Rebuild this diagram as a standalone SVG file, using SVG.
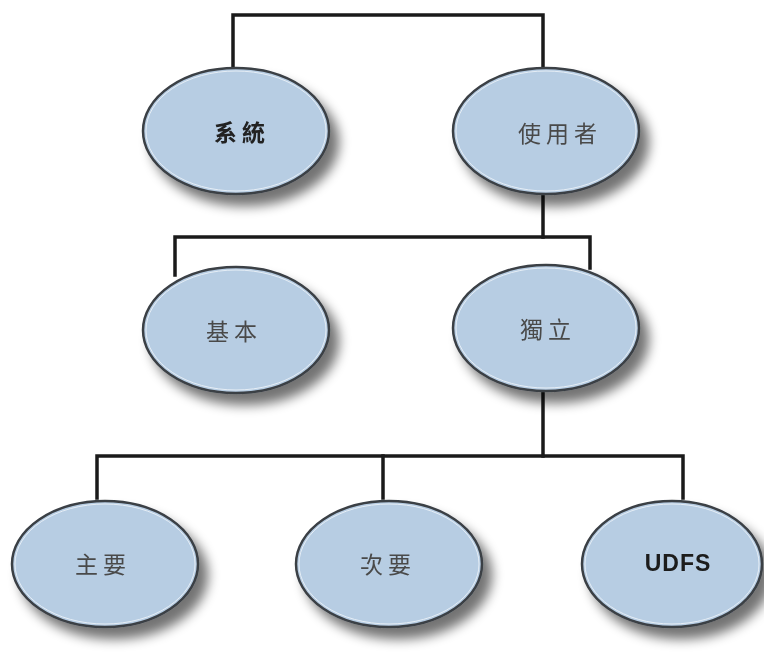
<svg xmlns="http://www.w3.org/2000/svg" width="764" height="656" viewBox="0 0 764 656">
  <defs>
    <filter id="shadow" x="-30%" y="-30%" width="170%" height="180%">
      <feGaussianBlur in="SourceAlpha" stdDeviation="6"/>
      <feOffset dx="9" dy="11" result="blur"/>
      <feComponentTransfer><feFuncA type="linear" slope="0.55"/></feComponentTransfer>
      <feMerge><feMergeNode/><feMergeNode in="SourceGraphic"/></feMerge>
    </filter>
  </defs>
  <style>
    .conn { fill: none; stroke: #1a1a1a; stroke-width: 3.5; stroke-linecap: square; }
    .node ellipse.body { fill: #b7cde3; stroke: #3a3f45; stroke-width: 2.5; }
    .node ellipse.hl { fill: none; stroke: #e6eef6; stroke-width: 1; }
    .cjk { font-family: "Noto Sans CJK TC", "Noto Sans CJK SC", sans-serif; font-size: 23px; fill: #4a4a4a; text-anchor: middle; dominant-baseline: central; letter-spacing: 5px; }
    .bold { font-weight: bold; fill: #222; }
    .latin { font-family: "Liberation Sans", Arial, sans-serif; font-weight: bold; font-size: 23px; fill: #1a1a1a; text-anchor: middle; letter-spacing: 1px; }
  </style>
  <rect width="764" height="656" fill="#ffffff"/>

  <g id="connectors">
    <path class="conn" d="M233 66 V15 H543 V66"/>
    <path class="conn" d="M543 196 V237"/>
    <path class="conn" d="M175 275 V237 H590 V268"/>
    <path class="conn" d="M543 392 V456"/>
    <path class="conn" d="M97 498 V456 H683 V498"/>
    <path class="conn" d="M383 498 V456"/>
  </g>

  <g id="node-system" class="node" filter="url(#shadow)">
    <ellipse class="body" cx="236" cy="131" rx="93" ry="63"/>
    <ellipse class="hl" cx="236" cy="131" rx="90" ry="60"/>
    <text class="cjk bold" x="242" y="131">系統</text>
  </g>
  <g id="node-user" class="node" filter="url(#shadow)">
    <ellipse class="body" cx="546" cy="131" rx="93" ry="63"/>
    <ellipse class="hl" cx="546" cy="131" rx="90" ry="60"/>
    <text class="cjk" x="560" y="132">使用者</text>
  </g>
  <g id="node-basic" class="node" filter="url(#shadow)">
    <ellipse class="body" cx="236" cy="330" rx="93" ry="63"/>
    <ellipse class="hl" cx="236" cy="330" rx="90" ry="60"/>
    <text class="cjk" x="234" y="330">基本</text>
  </g>
  <g id="node-independent" class="node" filter="url(#shadow)">
    <ellipse class="body" cx="546" cy="328" rx="93" ry="63"/>
    <ellipse class="hl" cx="546" cy="328" rx="90" ry="60"/>
    <text class="cjk" x="548" y="328">獨立</text>
  </g>
  <g id="node-primary" class="node" filter="url(#shadow)">
    <ellipse class="body" cx="105" cy="564" rx="93" ry="63"/>
    <ellipse class="hl" cx="105" cy="564" rx="90" ry="60"/>
    <text class="cjk" x="103" y="563">主要</text>
  </g>
  <g id="node-secondary" class="node" filter="url(#shadow)">
    <ellipse class="body" cx="389" cy="564" rx="93" ry="63"/>
    <ellipse class="hl" cx="389" cy="564" rx="90" ry="60"/>
    <text class="cjk" x="388" y="563">次要</text>
  </g>
  <g id="node-udfs" class="node" filter="url(#shadow)">
    <ellipse class="body" cx="672" cy="564" rx="90" ry="63"/>
    <ellipse class="hl" cx="672" cy="564" rx="87" ry="60"/>
    <text class="latin" x="678" y="571">UDFS</text>
  </g>
</svg>
